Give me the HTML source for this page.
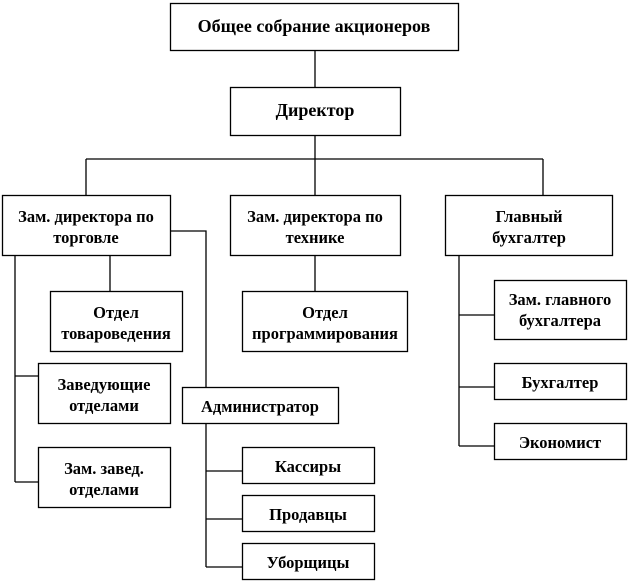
<!DOCTYPE html>
<html><head><meta charset="utf-8"><style>
body{margin:0;background:#fff;width:630px;height:582px;overflow:hidden}
svg text{font-family:"Liberation Serif","DejaVu Serif",serif;font-weight:bold;font-size:16.5px;text-anchor:middle}
</style></head><body>
<svg width="630" height="582" viewBox="0 0 630 582">
<g stroke="#000" stroke-width="1.3" fill="none">
<path d="M315 50V87M315 135V159M86 159H543M86 159V195M315 159V195M543 159V195"/>
<path d="M170 231H206V387M110 255V291M15 255V482M15 376H38M15 482H38"/>
<path d="M315 255V291M206 423V567M206 471H242M206 519H242M206 567H242"/>
<path d="M459 255V446M459 315H494M459 387H494M459 446H494"/>
<rect x="170.5" y="3.5" width="288" height="47" fill="#fff"/>
<rect x="230.5" y="87.5" width="170" height="48" fill="#fff"/>
<rect x="2.5" y="195.5" width="168" height="60" fill="#fff"/>
<rect x="230.5" y="195.5" width="170" height="60" fill="#fff"/>
<rect x="445.5" y="195.5" width="167" height="60" fill="#fff"/>
<rect x="50.5" y="291.5" width="132" height="60" fill="#fff"/>
<rect x="242.5" y="291.5" width="165" height="60" fill="#fff"/>
<rect x="38.5" y="363.5" width="132" height="60" fill="#fff"/>
<rect x="38.5" y="447.5" width="132" height="60" fill="#fff"/>
<rect x="182.5" y="387.5" width="156" height="36" fill="#fff"/>
<rect x="242.5" y="447.5" width="132" height="36" fill="#fff"/>
<rect x="242.5" y="495.5" width="132" height="36" fill="#fff"/>
<rect x="242.5" y="543.5" width="132" height="36" fill="#fff"/>
<rect x="494.5" y="280.5" width="132" height="59" fill="#fff"/>
<rect x="494.5" y="363.5" width="132" height="36" fill="#fff"/>
<rect x="494.5" y="423.5" width="132" height="36" fill="#fff"/>
</g>
<text x="314" y="32" style="font-size:18px">Общее собрание акционеров</text>
<text x="315" y="116" style="font-size:18px">Директор</text>
<text x="86" y="222">Зам. директора  по</text><text x="86" y="243">торговле</text>
<text x="315" y="222">Зам. директора  по</text><text x="315" y="243">технике</text>
<text x="529" y="222">Главный</text><text x="529" y="243">бухгалтер</text>
<text x="116" y="318">Отдел</text><text x="116" y="339">товароведения</text>
<text x="325" y="318">Отдел</text><text x="325" y="339">программирования</text>
<text x="104" y="390">Заведующие</text><text x="104" y="411">отделами</text>
<text x="104" y="474">Зам. завед.</text><text x="104" y="495">отделами</text>
<text x="260" y="412">Администратор</text>
<text x="308" y="472">Кассиры</text>
<text x="308" y="520">Продавцы</text>
<text x="308" y="568">Уборщицы</text>
<text x="560" y="305">Зам. главного</text><text x="560" y="326">бухгалтера</text>
<text x="560" y="388">Бухгалтер</text>
<text x="560" y="448">Экономист</text>
</svg>
</body></html>
